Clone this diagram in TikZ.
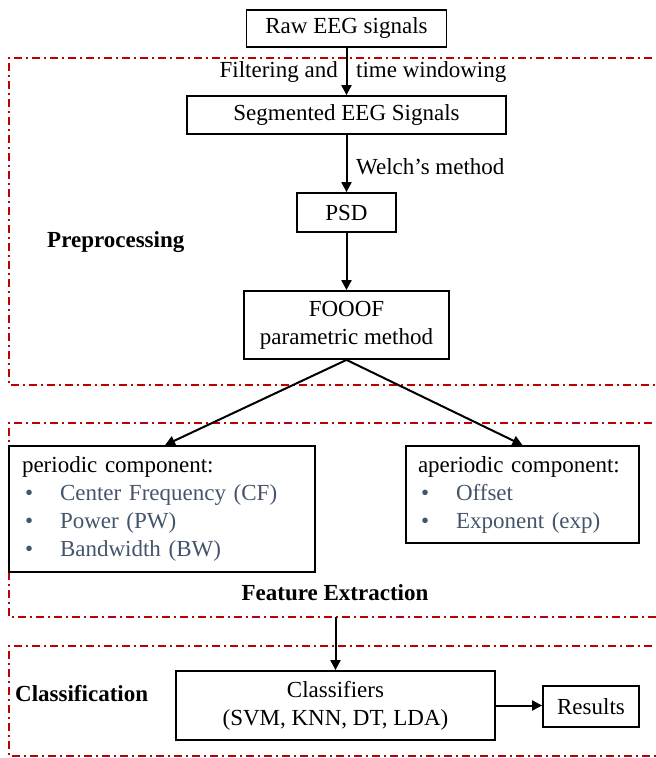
\documentclass[tikz,border=0pt]{standalone}
\usepackage{fontspec}
\setmainfont{Liberation Serif}
\usetikzlibrary{arrows.meta,calc}
\definecolor{framered}{HTML}{C00000}
\definecolor{itemblue}{HTML}{44546A}
\newcommand\bulitem[1]{\makebox[38pt][l]{\hspace{3pt}\textcolor{itemblue}{\textbullet}}\textcolor{itemblue}{#1}}
\begin{document}
\begin{tikzpicture}[x=1pt,y=-1pt,
  box/.style={draw=black,line width=1.8pt,font=\fontsize{23}{28}\selectfont,inner sep=0pt,align=center},
  arr/.style={line width=2pt,-{Triangle[length=10pt,width=10pt]}},
  frame/.style={draw=framered,line width=1.3pt,dash pattern=on 8pt off 4pt on 2pt off 4pt},
  lbl/.style={font=\fontsize{23}{28}\selectfont,inner sep=0pt},
  blbl/.style={font=\fontsize{23}{28}\selectfont\bfseries,inner sep=0pt}]
\useasboundingbox (0,0) rectangle (656,758);
\clip (0,0) rectangle (656,758);

% section frames
\draw[frame] (670,58) -- (9,58) -- (9,385) -- (670,385);
\draw[frame] (670,423) -- (9,423) -- (9,617) -- (670,617);
\draw[frame] (670,646) -- (9,646) -- (9,756) -- (670,756);

% boxes
\node[box,minimum width=200pt,minimum height=37pt] (raw) at (346.5,28.5) {Raw EEG signals};
\node[box,minimum width=319pt,minimum height=38pt] (seg) at (346.5,115) {Segmented EEG Signals};
\node[box,minimum width=99pt,minimum height=39pt] (psd) at (346.5,212.5) {PSD};
\node[box,minimum width=205pt,minimum height=68pt] (fooof) at (346.5,325) {FOOOF\\parametric method};
\node[box,align=left,text width=280pt,inner xsep=13pt,minimum height=126pt] (per) at (162,509)
  {periodic component:\\\bulitem{Center Frequency (CF)}\\\bulitem{Power (PW)}\\\bulitem{Bandwidth (BW)}};
\node[box,align=left,text width=209pt,inner xsep=12pt,minimum height=97pt] (aper) at (522.5,494.5)
  {aperiodic component:\\\bulitem{Offset}\\\bulitem{Exponent (exp)}};
\node[box,minimum width=319pt,minimum height=69pt] (cls) at (335.5,705.5) {Classifiers\\(SVM, KNN, DT, LDA)};
\node[box,minimum width=96pt,minimum height=41pt] (res) at (591,706.5) {Results};

% labels
\node[lbl,anchor=mid east] (filt) at (338,75) {Filtering and};
\node[lbl,anchor=mid west] (twin) at (356,75) {time windowing};
\node[lbl,anchor=mid west] (welch) at (356,172) {Welch’s method};
\node[blbl,anchor=mid west] (pre) at (47,245) {Preprocessing};
\node[blbl] (fex) at (335,593) {Feature Extraction};
\node[blbl,anchor=mid west] (clab) at (15,699) {Classification};

% connectors
\draw[arr] (raw) -- (seg);
\draw[arr] (seg) -- (psd);
\draw[arr] (psd) -- (fooof);
\draw[arr] (fooof.south) -- ($(per.north)+(3,0)$);
\draw[arr] (fooof.south) -- (aper.north);
\coordinate (fe) at (335.5,617);
\draw[arr] (fe) -- (cls.north);
\draw[arr] (cls.east) -- (cls.east -| res.west);
\end{tikzpicture}
\end{document}
